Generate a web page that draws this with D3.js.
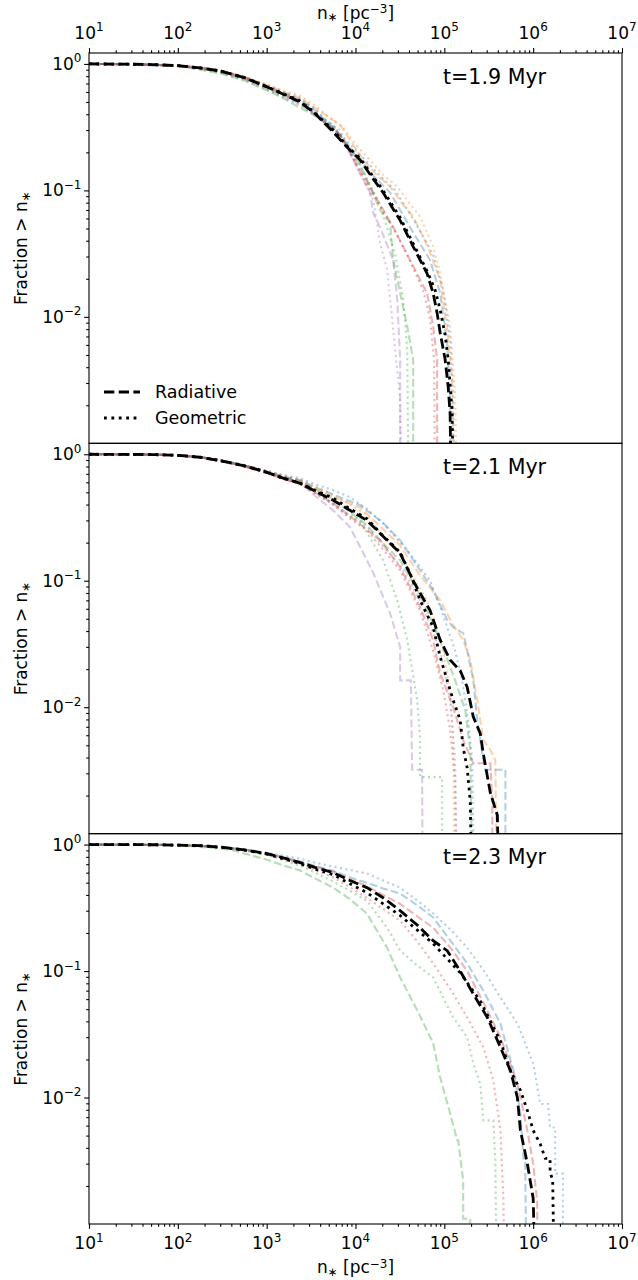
<!DOCTYPE html>
<html><head><meta charset="utf-8">
<script src="https://cdn.jsdelivr.net/npm/d3@7"></script>
<style>body{margin:0;background:#fff}svg{display:block}text{font-family:"DejaVu Sans",sans-serif;fill:#000}</style>
</head><body><svg id="c" width="638" height="1280"></svg>
<script>
// ---------- tick values / labels ----------
const xTickValues = [1e1, 1e2, 1e3, 1e4, 1e5, 1e6, 1e7];
const yTickValues = [1, 0.1, 0.01];
const panelTimes = ["t=1.9 Myr", "t=2.1 Myr", "t=2.3 Myr"];
const legendLabels = ["Radiative", "Geometric"];
const xDomain = [1e1, 1e7];
const yDomain = [1.0e-3, 1.22];

// ---------- data: [n_* (pc^-3), fraction > n_*] ----------
// t = 1.9 Myr
const t19_mean_rad = [[10,1],[30,0.995],[56,0.985],[100,0.97],[178,0.93],[300,0.88],[560,0.78],[1000,0.66],[1500,0.58],[2377,0.50],[3500,0.405],[5600,0.29],[8000,0.22],[11270,0.174],[15000,0.13],[20460,0.096],[31800,0.058],[44570,0.036],[63970,0.022],[74820,0.0154],[82990,0.0107],[89750,0.0075],[102100,0.0046],[110500,0.0028],[116200,0.0017],[122400,1e-4]];
const t19_mean_geo = [[10,1],[30,0.995],[56,0.985],[100,0.97],[178,0.93],[300,0.88],[560,0.78],[1000,0.66],[1500,0.585],[2377,0.51],[3500,0.41],[5600,0.30],[8000,0.225],[11270,0.18],[15000,0.135],[20460,0.10],[31800,0.061],[44570,0.038],[63970,0.023],[78800,0.0163],[89750,0.0114],[102100,0.0072],[110500,0.0046],[116200,0.0029],[122400,0.0018],[128900,1e-4]];
const t19_orange_rad = [[10,1],[30,0.995],[56,0.985],[100,0.97],[178,0.94],[300,0.89],[560,0.79],[1000,0.68],[1500,0.61],[2377,0.54],[3500,0.45],[6714,0.33],[9000,0.24],[12190,0.174],[17000,0.135],[24550,0.107],[33000,0.08],[44570,0.062],[63970,0.037],[89750,0.0195],[107700,0.0079],[122400,0.0032],[132300,1e-4]];
const t19_orange_geo = [[10,1],[30,0.995],[56,0.985],[100,0.97],[178,0.94],[300,0.89],[560,0.79],[1000,0.69],[1500,0.62],[2377,0.56],[3500,0.47],[5000,0.38],[7244,0.317],[10000,0.23],[14600,0.174],[20000,0.135],[29480,0.107],[40000,0.08],[53350,0.062],[74820,0.036],[89750,0.022],[116200,0.0084],[132300,0.0025],[143000,1e-4]];
const t19_blue_rad = [[10,1],[30,0.995],[56,0.985],[100,0.97],[178,0.935],[300,0.885],[560,0.785],[1000,0.67],[1500,0.595],[2377,0.52],[3500,0.43],[5600,0.31],[8000,0.23],[11270,0.174],[16000,0.13],[24550,0.096],[41200,0.051],[69180,0.028],[89750,0.0154],[107700,0.0062],[116200,0.0022],[119000,1e-4]];
const t19_blue_geo = [[10,1],[30,0.995],[56,0.985],[100,0.97],[178,0.935],[300,0.885],[560,0.79],[1000,0.68],[1500,0.60],[2377,0.53],[3500,0.44],[5600,0.32],[8500,0.235],[12820,0.174],[19000,0.13],[27990,0.10],[46950,0.056],[74820,0.031],[97030,0.0163],[116200,0.0066],[125600,0.0022],[132300,1e-4]];
const t19_red_rad = [[10,1],[30,0.995],[56,0.985],[100,0.965],[178,0.93],[300,0.875],[560,0.775],[1000,0.66],[1500,0.58],[2377,0.51],[3500,0.40],[6714,0.275],[10000,0.17],[15850,0.096],[26600,0.051],[41200,0.028],[63970,0.0154],[74820,0.0084],[82990,0.0046],[82990,1e-4]];
const t19_red_geo = [[10,1],[30,0.995],[56,0.985],[100,0.965],[178,0.93],[300,0.875],[560,0.775],[1000,0.66],[1500,0.575],[2377,0.50],[3500,0.40],[6714,0.28],[10000,0.165],[14600,0.10],[24550,0.056],[38240,0.031],[57550,0.0163],[69180,0.0095],[76740,0.0046],[78800,1e-4]];
const t19_green_rad = [[10,1],[30,0.993],[56,0.98],[100,0.96],[178,0.90],[300,0.84],[560,0.74],[1000,0.62],[1500,0.54],[2377,0.45],[3500,0.39],[5600,0.317],[8680,0.22],[11270,0.16],[14600,0.107],[18920,0.070],[24550,0.055],[26600,0.028],[31800,0.0154],[38240,0.0084],[44570,0.0046],[44570,1e-4]];
const t19_green_geo = [[10,1],[30,0.993],[56,0.98],[100,0.965],[178,0.91],[300,0.85],[560,0.75],[1000,0.63],[1500,0.55],[2377,0.47],[3500,0.40],[5600,0.33],[8000,0.22],[11270,0.159],[18920,0.077],[27990,0.031],[34460,0.0137],[38240,0.0055],[40180,1e-4]];
const t19_purple_rad = [[10,1],[30,0.994],[56,0.982],[100,0.965],[178,0.92],[300,0.86],[560,0.76],[1000,0.64],[1500,0.56],[2377,0.48],[3500,0.39],[6714,0.275],[10000,0.16],[14600,0.096],[15850,0.066],[18920,0.051],[26600,0.028],[29480,0.0137],[31800,0.0046],[31800,1e-4]];
const t19_purple_geo = [[10,1],[30,0.994],[56,0.982],[100,0.965],[178,0.93],[300,0.87],[560,0.77],[1000,0.65],[1500,0.57],[2377,0.50],[3500,0.41],[6714,0.30],[10000,0.16],[15850,0.084],[18920,0.038],[22700,0.0236],[26600,0.0079],[31800,0.0022],[34460,1e-4]];
// t = 2.1 Myr
const t21_mean_rad = [[10,1],[30,0.998],[56,0.993],[100,0.98],[178,0.947],[300,0.89],[560,0.81],[1000,0.721],[1500,0.65],[2377,0.59],[3500,0.51],[5600,0.433],[8680,0.36],[13420,0.30],[22700,0.209],[31800,0.165],[44570,0.10],[53350,0.08],[69180,0.058],[89750,0.034],[116200,0.0236],[150900,0.0195],[180900,0.0144],[211700,0.0084],[253700,0.0062],[274500,0.0043],[329500,0.0021],[395300,0.0014],[427400,1e-4]];
const t21_mean_geo = [[10,1],[30,0.998],[56,0.993],[100,0.98],[178,0.947],[300,0.89],[560,0.81],[1000,0.72],[1500,0.65],[2377,0.59],[3500,0.52],[5600,0.45],[8680,0.37],[13420,0.31],[20000,0.23],[31800,0.168],[42000,0.11],[53350,0.070],[74820,0.043],[89750,0.025],[107700,0.0163],[125600,0.0114],[150900,0.0079],[163000,0.0048],[180900,0.0033],[195700,0.0018],[211700,1e-4]];
const t21_blue_rad = [[10,1],[30,0.998],[56,0.993],[100,0.98],[178,0.95],[300,0.895],[560,0.815],[1000,0.73],[1500,0.67],[2377,0.623],[3500,0.55],[5600,0.48],[11270,0.395],[20000,0.29],[31800,0.209],[53350,0.121],[74820,0.084],[107700,0.049],[125600,0.043],[163000,0.0385],[180900,0.028],[211700,0.0163],[234900,0.0079],[274500,0.0038],[289200,0.0032],[487000,0.0032],[487000,1e-4]];
const t21_blue_geo = [[10,1],[30,0.998],[56,0.993],[100,0.98],[178,0.95],[300,0.9],[560,0.82],[1000,0.74],[1500,0.69],[2377,0.646],[3500,0.58],[5600,0.52],[8680,0.457],[13420,0.37],[20460,0.285],[38240,0.174],[53350,0.128],[69180,0.10],[89750,0.062],[107700,0.043],[132300,0.028],[158500,0.0163],[185400,0.0079],[205600,0.0038],[222900,1e-4]];
const t21_orange_rad = [[10,1],[30,0.998],[56,0.993],[100,0.98],[178,0.95],[300,0.895],[560,0.815],[1000,0.73],[1500,0.665],[2377,0.61],[3500,0.54],[5600,0.46],[11270,0.38],[20000,0.26],[31800,0.19],[53350,0.11],[89750,0.07],[125600,0.0446],[163000,0.034],[195700,0.0236],[234900,0.0114],[274500,0.0055],[329500,0.0046],[375000,0.0038],[395300,1e-4]];
const t21_orange_geo = [[10,1],[30,0.998],[56,0.993],[100,0.98],[178,0.95],[300,0.9],[560,0.82],[1000,0.74],[1500,0.68],[2377,0.63],[3500,0.56],[5600,0.48],[8680,0.40],[13420,0.33],[20000,0.23],[31800,0.159],[63970,0.07],[97030,0.028],[116200,0.0137],[125600,0.0055],[132300,1e-4]];
const t21_red_rad = [[10,1],[30,0.998],[56,0.993],[100,0.98],[178,0.945],[300,0.885],[560,0.8],[1000,0.71],[1500,0.64],[2377,0.58],[3500,0.50],[5600,0.41],[10000,0.30],[18920,0.209],[31800,0.128],[53350,0.062],[74820,0.034],[89750,0.0186],[125600,0.010],[163000,0.0055],[211700,0.0036],[329500,0.0036],[346800,0.0018],[346800,1e-4]];
const t21_red_geo = [[10,1],[30,0.998],[56,0.993],[100,0.98],[178,0.945],[300,0.885],[560,0.8],[1000,0.71],[1500,0.64],[2377,0.58],[3500,0.49],[5600,0.40],[8680,0.31],[13420,0.25],[20000,0.18],[31800,0.121],[53350,0.058],[74820,0.028],[97030,0.0137],[116200,0.0066],[132300,0.0027],[139400,1e-4]];
const t21_green_rad = [[10,1],[30,0.998],[56,0.993],[100,0.98],[178,0.95],[300,0.895],[560,0.815],[1000,0.73],[1500,0.665],[2377,0.62],[3500,0.53],[5600,0.44],[8680,0.35],[13420,0.275],[20000,0.2],[31800,0.145],[53350,0.077],[89750,0.034],[132300,0.0163],[171800,0.0095],[195700,0.0046],[211700,1e-4]];
const t21_green_geo = [[10,1],[30,0.998],[56,0.993],[100,0.98],[178,0.95],[300,0.89],[560,0.81],[1000,0.72],[1500,0.655],[2377,0.60],[3500,0.50],[5600,0.41],[8000,0.34],[11270,0.30],[15000,0.21],[20460,0.145],[29480,0.070],[38240,0.034],[49460,0.0114],[53350,0.0055],[53350,0.0028],[94400,0.0028],[94400,1e-4]];
const t21_purple_rad = [[10,1],[30,0.998],[56,0.993],[100,0.98],[178,0.95],[300,0.89],[560,0.81],[1000,0.72],[1500,0.655],[2377,0.60],[3500,0.47],[5600,0.36],[8680,0.265],[12000,0.17],[15850,0.115],[24550,0.055],[31800,0.030],[31800,0.0163],[42000,0.0163],[43400,0.0032],[56200,0.0032],[57500,1e-4]];
const t21_purple_geo = [[10,1],[30,0.998],[56,0.993],[100,0.98],[178,0.95],[300,0.9],[560,0.82],[1000,0.74],[1500,0.675],[2377,0.62],[3500,0.51],[5600,0.40],[8680,0.32],[13420,0.27],[20000,0.19],[31800,0.133],[53350,0.07],[89750,0.028],[116200,0.0114],[132300,0.0038],[143000,1e-4]];
// t = 2.3 Myr
const t23_mean_rad = [[10,1],[56,0.997],[100,0.99],[178,0.98],[300,0.955],[560,0.91],[1005,0.849],[1500,0.79],[2377,0.721],[3500,0.66],[5600,0.60],[8680,0.52],[13420,0.457],[20460,0.38],[31800,0.30],[50000,0.23],[74820,0.174],[107700,0.145],[150900,0.10],[211700,0.066],[304700,0.043],[427400,0.025],[554800,0.0163],[664600,0.010],[718700,0.0055],[860000,0.003],[1.0e6,0.0016],[1.109e6,1e-4]];
const t23_mean_geo = [[10,1],[56,0.997],[100,0.99],[178,0.98],[300,0.953],[560,0.905],[1005,0.84],[1500,0.775],[2377,0.708],[3500,0.64],[5600,0.579],[8680,0.49],[13420,0.417],[20460,0.34],[31800,0.275],[50000,0.21],[74820,0.165],[107700,0.125],[150900,0.097],[253700,0.058],[427400,0.028],[554800,0.0163],[718700,0.0114],[860000,0.0079],[1.0e6,0.0055],[1.2e6,0.0043],[1.37e6,0.0033],[1.55e6,0.0033],[1.55e6,0.0026],[1.66e6,0.0022],[1.77e6,1e-4]];
const t23_blue_rad = [[10,1],[56,0.997],[100,0.99],[178,0.98],[300,0.957],[560,0.915],[1005,0.85],[1500,0.80],[2377,0.734],[3500,0.68],[5600,0.62],[8680,0.55],[13420,0.50],[20460,0.45],[31800,0.41],[50000,0.33],[74820,0.265],[120000,0.17],[180900,0.115],[274500,0.07],[427400,0.0385],[600000,0.0163],[718700,0.0075],[777000,0.0033],[812000,0.0033],[860000,1e-4]];
const t23_blue_geo = [[10,1],[56,0.997],[100,0.99],[178,0.98],[300,0.96],[560,0.92],[1005,0.86],[1500,0.82],[2377,0.775],[3500,0.72],[5600,0.67],[8680,0.63],[13420,0.59],[20460,0.52],[31800,0.457],[50000,0.36],[74820,0.285],[120000,0.21],[180900,0.153],[280000,0.10],[427400,0.062],[664600,0.0385],[1.0e6,0.0186],[1.2e6,0.0089],[1.476e6,0.0089],[1.55e6,0.0058],[1.77e6,0.0058],[1.77e6,0.0025],[2.16e6,0.0025],[2.16e6,1e-4]];
const t23_red_rad = [[10,1],[56,0.997],[100,0.99],[178,0.98],[300,0.956],[560,0.912],[1005,0.85],[1500,0.79],[2377,0.73],[3500,0.67],[5600,0.61],[8680,0.53],[13420,0.47],[20460,0.40],[31800,0.34],[50000,0.27],[74820,0.22],[120000,0.15],[180900,0.10],[280000,0.055],[427400,0.030],[664600,0.0129],[860000,0.0055],[1.0e6,0.003],[1.109e6,0.0015],[1.14e6,1e-4]];
const t23_red_geo = [[10,1],[56,0.997],[100,0.99],[178,0.98],[300,0.953],[560,0.905],[1005,0.84],[1500,0.775],[2377,0.71],[3500,0.63],[5600,0.55],[8680,0.46],[13420,0.38],[20460,0.31],[31800,0.25],[50000,0.17],[74820,0.115],[120000,0.07],[180900,0.043],[274500,0.025],[356000,0.0137],[427400,0.0055],[462300,0.0016],[487000,1e-4]];
const t23_green_rad = [[10,1],[56,0.995],[100,0.985],[178,0.96],[300,0.93],[418,0.90],[1000,0.76],[1500,0.69],[2377,0.623],[3500,0.54],[5600,0.457],[8680,0.37],[13420,0.285],[22700,0.153],[31800,0.089],[49460,0.049],[74820,0.027],[89750,0.0144],[116200,0.0075],[139400,0.0046],[143000,0.0046],[163000,0.0022],[163000,0.0011],[195700,0.0011],[205000,1e-4]];
const t23_green_geo = [[10,1],[56,0.997],[100,0.988],[178,0.975],[300,0.948],[560,0.9],[1005,0.83],[1500,0.76],[2377,0.68],[3500,0.60],[5600,0.51],[8680,0.43],[13420,0.36],[22700,0.22],[31800,0.145],[50000,0.11],[74820,0.089],[125600,0.043],[180900,0.030],[211700,0.0186],[253700,0.0129],[274500,0.0066],[356000,0.0066],[375000,0.0032],[395300,1e-4]];

// ---------- series lists ----------
const colorOf = {blue:"#1f77b4", orange:"#ff7f0e", green:"#2ca02c", red:"#d62728", purple:"#9467bd", black:"#000000"};
const panels = [
  {title: panelTimes[0], series: [
    ["blue","rad",t19_blue_rad],["orange","rad",t19_orange_rad],["green","rad",t19_green_rad],["red","rad",t19_red_rad],["purple","rad",t19_purple_rad],
    ["blue","geo",t19_blue_geo],["orange","geo",t19_orange_geo],["green","geo",t19_green_geo],["red","geo",t19_red_geo],["purple","geo",t19_purple_geo],
    ["black","rad",t19_mean_rad],["black","geo",t19_mean_geo]]},
  {title: panelTimes[1], series: [
    ["blue","rad",t21_blue_rad],["orange","rad",t21_orange_rad],["green","rad",t21_green_rad],["red","rad",t21_red_rad],["purple","rad",t21_purple_rad],
    ["blue","geo",t21_blue_geo],["orange","geo",t21_orange_geo],["green","geo",t21_green_geo],["red","geo",t21_red_geo],["purple","geo",t21_purple_geo],
    ["black","rad",t21_mean_rad],["black","geo",t21_mean_geo]]},
  {title: panelTimes[2], series: [
    ["blue","rad",t23_blue_rad],["green","rad",t23_green_rad],["red","rad",t23_red_rad],
    ["blue","geo",t23_blue_geo],["green","geo",t23_green_geo],["red","geo",t23_red_geo],
    ["black","rad",t23_mean_rad],["black","geo",t23_mean_geo]]}
];

// ---------- layout ----------
const L = 89, R = 622, TOP = 53, BOT = 1224;
const PH = (BOT - TOP) / 3;
const FS = 17;
const svg = d3.select("#c");
const x = d3.scaleLog().domain(xDomain).range([L, R]);

const xMinor = [];
for (let k = 1; k < 7; k++) for (let m = 2; m < 10; m++) xMinor.push(m * Math.pow(10, k));
const yMinor = [];
for (let k = -3; k < 1; k++) for (let m = 2; m < 10; m++) { const v = m * Math.pow(10, k); if (v > yDomain[0] && v < yDomain[1]) yMinor.push(v); }

function supText(g, v, px, py, anchor) {
  const e = Math.round(Math.log10(v));
  const t = g.append("text").attr("x", px).attr("y", py).attr("text-anchor", anchor).attr("font-size", FS);
  t.append("tspan").text("10");
  t.append("tspan").attr("dy", -7.5).attr("font-size", 12).text(e < 0 ? "\u2212" + (-e) : String(e));
  return t;
}
function cleanAxis(g) {
  g.select(".domain").remove();
  g.selectAll(".tick line").attr("stroke", "#000").attr("stroke-width", 1.1);
  g.attr("font-size", null).attr("font-family", null);
}
function nStarLabel(t) {
  t.append("tspan").text("n");
  t.append("tspan").attr("font-size", "70%").attr("dy", "0.22em").text("\u2217");
  t.append("tspan").attr("dy", "-0.154em").text(" [pc");
  t.append("tspan").attr("font-size", "70%").attr("dy", "-0.45em").text("\u22123");
  t.append("tspan").attr("dy", "0.315em").text("]");
}

const styles = {
  rad: {faint: "7.7,3.3", black: "10.3,4.4"},
  geo: {faint: "2.1,3.4", black: "2.8,4.6"}
};

panels.forEach((p, i) => {
  const top = TOP + i * PH, bot = top + PH;
  const y = d3.scaleLog().domain(yDomain).range([bot, top]);
  const g = svg.append("g");
  const cid = "clip" + i;
  svg.append("defs").append("clipPath").attr("id", cid).append("rect")
    .attr("x", L).attr("y", top).attr("width", R - L).attr("height", PH);

  const line = d3.line().x(d => x(d[0])).y(d => y(d[1]));
  const lg = g.append("g").attr("clip-path", `url(#${cid})`);
  p.series.forEach(([c, s, data]) => {
    const black = c === "black";
    lg.append("path").datum(data).attr("d", line)
      .attr("fill", "none").attr("stroke", colorOf[c])
      .attr("stroke-opacity", black ? 1 : 0.35)
      .attr("stroke-width", black ? 2.8 : 2.1)
      .attr("stroke-dasharray", black ? styles[s].black : styles[s].faint);
  });

  // y axis
  g.append("g").attr("transform", `translate(${L},0)`)
    .call(d3.axisLeft(y).tickValues(yMinor).tickSize(2.8).tickFormat("")).call(cleanAxis);
  g.append("g").attr("transform", `translate(${L},0)`)
    .call(d3.axisLeft(y).tickValues(yTickValues).tickSize(4.9).tickFormat("")).call(cleanAxis);
  yTickValues.forEach(v => supText(g, v, L - 7.5, y(v) + 6, "end"));

  // frame
  g.append("rect").attr("x", L).attr("y", top).attr("width", R - L).attr("height", PH)
    .attr("fill", "none").attr("stroke", "#000").attr("stroke-width", 1.1);

  // panel title
  g.append("text").attr("x", 443).attr("y", top + 30.5).attr("font-size", 20.6).text(p.title);

  // y label
  const yl = g.append("text").attr("transform", `translate(27,${(top + bot) / 2}) rotate(-90)`)
    .attr("text-anchor", "middle").attr("font-size", FS);
  yl.append("tspan").text("Fraction > n");
  yl.append("tspan").attr("font-size", "70%").attr("dy", "0.22em").text("\u2217");

  if (i === 0) {
    g.append("g").attr("transform", `translate(0,${top})`)
      .call(d3.axisTop(x).tickValues(xMinor).tickSize(2.8).tickFormat("")).call(cleanAxis);
    g.append("g").attr("transform", `translate(0,${top})`)
      .call(d3.axisTop(x).tickValues(xTickValues).tickSize(4.9).tickFormat("")).call(cleanAxis);
    xTickValues.forEach(v => supText(g, v, x(v), 38.5, "middle"));
    const xl = g.append("text").attr("x", (L + R) / 2).attr("y", 18.5).attr("text-anchor", "middle").attr("font-size", FS);
    nStarLabel(xl);
    // legend
    legendLabels.forEach((lab, j) => {
      const ly = 392 + j * 26;
      g.append("line").attr("x1", 104).attr("x2", 140).attr("y1", ly).attr("y2", ly)
        .attr("stroke", "#000").attr("stroke-width", 2.8)
        .attr("stroke-dasharray", j === 0 ? styles.rad.black : styles.geo.black);
      g.append("text").attr("x", 155).attr("y", ly + 6).attr("font-size", 17.5).text(lab);
    });
  }
  if (i === 2) {
    g.append("g").attr("transform", `translate(0,${bot})`)
      .call(d3.axisBottom(x).tickValues(xMinor).tickSize(2.8).tickFormat("")).call(cleanAxis);
    g.append("g").attr("transform", `translate(0,${bot})`)
      .call(d3.axisBottom(x).tickValues(xTickValues).tickSize(4.9).tickFormat("")).call(cleanAxis);
    xTickValues.forEach(v => supText(g, v, x(v), 1249, "middle"));
    const xl = g.append("text").attr("x", (L + R) / 2).attr("y", 1273).attr("text-anchor", "middle").attr("font-size", FS);
    nStarLabel(xl);
  }
});
</script></body></html>
